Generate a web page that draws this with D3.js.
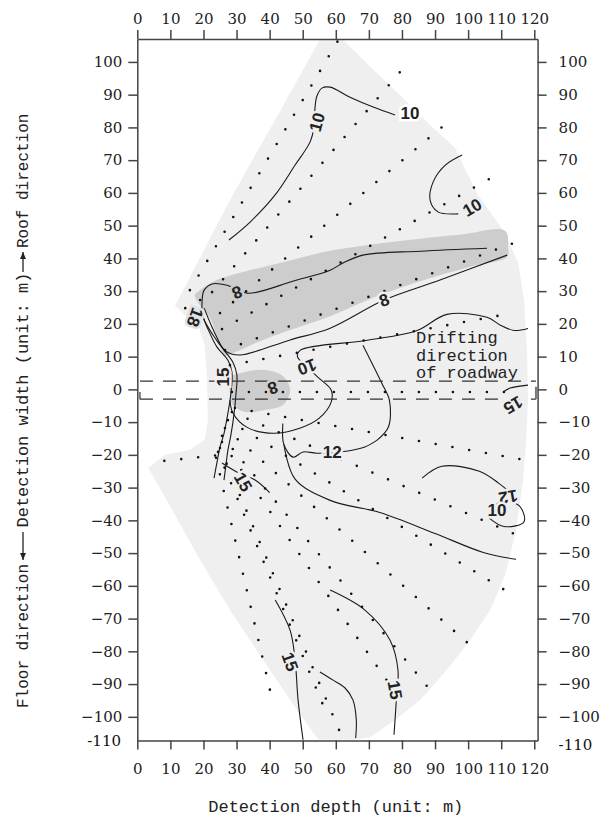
<!DOCTYPE html>
<html>
<head>
<meta charset="utf-8">
<script src="https://cdn.jsdelivr.net/npm/d3@7/dist/d3.min.js"></script>
<style>
  body { margin: 0; background: #fff; }
  text { fill: #222; }
</style>
</head>
<body>
<script>
// tick values / labels
const xTicks = [0, 10, 20, 30, 40, 50, 60, 70, 80, 90, 100, 110, 120];
const yTicks = [-100, -90, -80, -70, -60, -50, -40, -30, -20, -10, 0, 10, 20, 30, 40, 50, 60, 70, 80, 90, 100];
const yBottomLabel = "-110";
const xDomain = [0, 121];
const yDomain = [-107.2, 107];

// measured area (light grey fan), depth / width in m
const fanOutline = [
  [12.3, 27.3], [28.0, 57.8], [41.6, 82.2], [55.3, 107], [61.9, 107], [70.9, 98.1],
  [79.4, 89.9], [88.5, 80.7], [96.1, 73.7], [100, 65.4], [103, 59.3], [110.6, 48.6],
  [115.1, 38.8], [116.9, 27.3], [117.8, 12], [118.1, -3.3], [117.5, -15.5], [116.6, -27.7],
  [114.5, -43], [111.2, -56.7], [106.7, -67.4], [100.6, -76.6], [93, -86.4], [85.5, -94.9],
  [77.9, -101], [70.3, -106.2], [65.8, -107], [54.7, -107], [46.2, -94.9], [37.1, -81.2],
  [28, -67.4], [19, -52.1], [11.4, -38.4], [5.4, -27.7], [3.3, -24], [8.4, -20],
  [15.9, -18.5], [20.4, -15.4], [21.3, -9.3], [21.1, 2.8], [20.4, 13.5], [18.4, 19.6],
  [14.4, 22.7], [11.4, 25.7]
];

// low value zones (darker grey)
const lowBand = [
  [18.9, 30.3], [23.5, 33.2], [31.1, 35.6], [43.2, 38.6], [58.3, 42.3], [79.4, 45.3],
  [97.5, 47.2], [111.2, 48.4], [112.1, 43.4], [111.8, 40.4], [101.2, 37.6], [85.5, 33],
  [70.9, 27.8], [58.3, 22.3], [46.2, 18.1], [35.6, 14.1], [29.5, 11.3], [26.5, 10.4],
  [24.4, 15], [22, 21.7], [18.9, 25.7], [17.4, 28.8]
];
const lowCore = [
  [28.0, 3.5], [32.6, 5.3], [38.6, 5.9], [44, 4.1], [46.2, -0.2], [44, -4.8],
  [38.6, -6.3], [32.6, -6.9], [28.9, -4.8], [28.0, -0.8]
];

// isolines
const contourLines = [
  // 10, upper
  [[27.7, 45.6], [34.1, 51.1], [41.6, 59.3], [47.7, 68.5], [52.2, 75.5], [53.4, 80], [53.7, 85.9],
   [54.3, 89.6], [55.8, 92], [58.3, 92.3], [64.3, 89.2], [71.3, 86.2], [77.9, 83.8]],
  // 10, right closed bay
  [[98.2, 71.6], [93.1, 68.5], [89.4, 63.3], [88.5, 57.8], [90.9, 54.2], [97, 53.6]],
  // 8, band
  [[105.7, 43.1], [85.5, 42.2], [68.2, 41], [62.2, 38.6], [58.3, 36.4], [46.2, 32.8], [38.6, 30.3],
   [33.2, 29.4], [27.1, 31.8], [22.6, 32.2], [20.2, 30.3], [19.6, 27.3], [19.9, 22.1], [23.5, 15.7],
   [27.1, 11.4], [31, 10.5], [46.2, 15.1], [58.3, 18.7], [74.6, 27.3], [91.5, 33.4], [111.8, 41]],
  // 18 / 15 along the roadway wall
  [[19, 24.2], [21.1, 19], [24.1, 12.9], [27.4, 8.9], [28.6, 5.3], [28.3, -1.1], [27.4, -7.2],
   [26.2, -13.5], [25, -17.6], [24.1, -22.2], [23.2, -27.1]],
  [[20.2, 24.8], [22.6, 19], [25.6, 12.9], [28.9, 8.3], [30.1, 4.4], [29.8, -1.7], [29.2, -7.8],
   [28.3, -13.9], [27.4, -18.5], [26.8, -23.1], [26.2, -27.7]],
  // 10, middle
  [[118.1, 18.6], [113.9, 18], [109.9, 19.5], [105.7, 22], [93.6, 22.9], [84.6, 18.0], [69.5, 15],
   [49.3, 12], [48.4, 10.1], [51.3, 6.8], [54.7, 3.6], [58.6, -0.2], [58.6, -3.9], [55.0, -8.8],
   [49.3, -11.8], [41.1, -13.4], [33.2, -11.6], [28.9, -7.2], [28, -3.3]],
  [[68.2, 13.5], [73.9, 1.9], [76.2, -3.3], [75.9, -11.5], [72.5, -15.5]],
  // 12, middle
  [[44, -10.4], [44.3, -16.8], [47.1, -20.7], [50.1, -19.1], [54.3, -19.5], [63.7, -18.8],
   [68.8, -17.6], [72.5, -15.5]],
  // 15, right edge
  [[110.6, -0.8], [112.7, 0.4], [118.1, 1.3]],
  // lower right 12
  [[86.1, -27.1], [92.1, -23.5], [103.4, -25], [109.3, -28.7], [115.4, -33.9]],
  [[107.3, -36.6], [109.9, -34.2], [115.4, -35.5], [116.9, -40.4], [110.9, -41.9], [106.4, -39.3]],
  // lower 12 long
  [[44.3, -16.8], [47.7, -27.4], [58.3, -33.9], [73.3, -37.6], [90, -44], [104.6, -49.8], [114.5, -51.9]],
  // lower 15
  [[41.7, -64.3], [46.2, -73.6], [47.7, -82.7], [48.6, -94.9], [50.1, -107]],
  [[55.2, -86.3], [59.2, -88.8], [62.8, -91.2], [65.2, -94.9], [66.2, -101], [66.0, -106.5]],
  [[58.3, -61.3], [68.8, -67.4], [76.4, -76.6], [78.8, -85.7], [78.2, -96.4], [77.6, -105.5]],
  [[25.6, -22.5], [30.2, -25.3], [35.6, -27.7], [40, -31.5]]
];

const contourLabels = [
  { t: "10", p: [54.3, 81.6], r: -75, bg: "#efefef" },
  { t: "10", p: [82.4, 84.4], r: 0, bg: "#fff" },
  { t: "10", p: [101.2, 55.6], r: -30, bg: "#efefef" },
  { t: "8", p: [30.2, 29.6], r: 160, bg: "#cdcdcd" },
  { t: "8", p: [74.6, 27.3], r: -20, bg: "#efefef" },
  { t: "18", p: [17.5, 22.0], r: 110, bg: "#e2e2e2" },
  { t: "15", p: [25.9, 3.8], r: -90, bg: "#efefef" },
  { t: "10", p: [51.3, 6.8], r: 160, bg: "#efefef" },
  { t: "8", p: [41, 0.4], r: 160, bg: "#cdcdcd" },
  { t: "12", p: [58.9, -19.1], r: 0, bg: "#efefef" },
  { t: "15", p: [32, -28.3], r: 60, bg: "#efefef" },
  { t: "12", p: [112.1, -32.9], r: 170, bg: "#efefef" },
  { t: "10", p: [108.7, -36.9], r: 0, bg: "#efefef" },
  { t: "15", p: [113.6, -4.8], r: 150, bg: "#efefef" },
  { t: "15", p: [46.2, -83.2], r: 70, bg: "#efefef" },
  { t: "15", p: [77.9, -91.8], r: 80, bg: "#efefef" }
];

// boreholes (measurement rays): start depth, start width, end depth, end width
const rays = [
  [15.9, 30.3, 62.2, 109.1],
  [22.6, 29.7, 79.4, 96.9],
  [25.0, 23.3, 94.2, 81.9],
  [25.6, 18.4, 106.3, 64.2],
  [26.5, 12.0, 115.4, 45.3],
  [28.0, 7.4, 110.3, 22.7],
  [28.6, -0.8, 113.3, -0.8],
  [29.5, -5.7, 115.7, -21.3],
  [28.6, -6.9, 114.8, -44.5],
  [27.4, -9.4, 111.1, -61.3],
  [26.5, -11.8, 100.6, -78.1],
  [25.6, -14.2, 88.5, -91.8],
  [25.6, -16.1, 79.1, -94.3],
  [25.0, -17.9, 61.9, -106.2],
  [24.4, -19.1, 56.4, -97.0],
  [23.8, -20.9, 40.1, -91.8],
  [23.5, -20.2, 3.8, -22.3],
  [19.0, 27.3, 12.3, 23.6]
];

// roadway (dashed strip)
const roadway = { depth: [0.8, 120.5], width: [2.5, -3.0] };

const svgWidth = 600, svgHeight = 819;
const svg = d3.select("body").append("svg")
  .attr("width", svgWidth).attr("height", svgHeight)
  .style("font-family", "'DejaVu Serif', serif");

const x = d3.scaleLinear().domain(xDomain).range([137.3, 537.6]);
const y = d3.scaleLinear().domain(yDomain).range([740.4, 39]);

const line = d3.line().x(d => x(d[0])).y(d => y(d[1]));
const smooth = d3.line().x(d => x(d[0])).y(d => y(d[1])).curve(d3.curveCatmullRom.alpha(0.5));
const closed = d3.line().x(d => x(d[0])).y(d => y(d[1])).curve(d3.curveCatmullRomClosed.alpha(0.5));

// fill areas
svg.append("path").attr("d", line.curve(d3.curveLinearClosed)(fanOutline)).attr("fill", "#efefef");
svg.append("path").attr("d", closed(lowBand)).attr("fill", "#cdcdcd");
svg.append("path").attr("d", closed(lowCore)).attr("fill", "#cdcdcd");

// isolines
svg.append("g").selectAll("path").data(contourLines).join("path")
  .attr("d", smooth).attr("fill", "none").attr("stroke", "#1a1a1a").attr("stroke-width", 1.1);

// boreholes as dotted lines
svg.append("g").selectAll("line").data(rays).join("line")
  .attr("x1", d => x(d[0])).attr("y1", d => y(d[1]))
  .attr("x2", d => x(d[2])).attr("y2", d => y(d[3]))
  .attr("stroke", "#111").attr("stroke-width", 2.6).attr("stroke-linecap", "round")
  .attr("stroke-dasharray", "0,17");

// roadway dashed strip
const rw = svg.append("g").attr("stroke", "#333").attr("stroke-width", 1.2);
roadway.width.forEach(w => {
  rw.append("line").attr("x1", x(roadway.depth[0])).attr("x2", x(roadway.depth[1]))
    .attr("y1", y(w)).attr("y2", y(w)).attr("stroke-dasharray", "13,10");
});
rw.append("line").attr("x1", x(roadway.depth[0])).attr("x2", x(roadway.depth[0]))
  .attr("y1", y(-0.8)).attr("y2", y(roadway.width[1]));
rw.append("line").attr("x1", x(roadway.depth[1])).attr("x2", x(roadway.depth[1]))
  .attr("y1", y(0.8)).attr("y2", y(roadway.width[1])).attr("stroke-width", 2).attr("stroke", "#777");

// isoline labels
svg.append("g").selectAll("text").data(contourLabels).join("text")
  .attr("transform", d => `translate(${x(d.p[0])},${y(d.p[1])}) rotate(${d.r})`)
  .attr("text-anchor", "middle").attr("dy", "0.35em")
  .style("font-family", "'Liberation Sans', Arial, sans-serif")
  .style("font-weight", "bold").style("font-size", "17px")
  .style("paint-order", "stroke").attr("stroke", d => d.bg).attr("stroke-width", 5)
  .text(d => d.t);

// annotation
const note = svg.append("text").style("font-family", "'Liberation Mono', monospace").style("font-size", "17px");
["Drifting", "direction", "of roadway"].forEach((s, i) => {
  note.append("tspan").attr("x", 416).attr("y", 343 + i * 17.5).text(s);
});

// axes
const axisStyle = g => {
  g.selectAll("path, line").attr("stroke", "#444").attr("stroke-width", 1.5);
  g.selectAll("text").style("font-size", "15px").style("font-family", "'DejaVu Serif', serif").attr("fill", "#111");
};
svg.append("g").attr("transform", `translate(0,${y(yDomain[1])})`)
  .call(d3.axisTop(x).tickValues(xTicks).tickSize(9).tickSizeOuter(0).tickPadding(6)).call(axisStyle);
svg.append("g").attr("transform", `translate(0,${y(yDomain[0])})`)
  .call(d3.axisBottom(x).tickValues(xTicks).tickSize(9).tickSizeOuter(0).tickPadding(14)).call(axisStyle);
svg.append("g").attr("transform", `translate(${x(xDomain[0])},0)`)
  .call(d3.axisLeft(y).tickValues(yTicks).tickSize(9).tickSizeOuter(0).tickPadding(6)).call(axisStyle);
svg.append("g").attr("transform", `translate(${x(xDomain[1])},0)`)
  .call(d3.axisRight(y).tickValues(yTicks).tickSize(9).tickSizeOuter(0).tickPadding(12)).call(axisStyle);

// bottom edge labels
svg.append("text").attr("x", 121).attr("y", y(yDomain[0])).attr("dy", "0.35em").attr("text-anchor", "end")
  .style("font-size", "15px").style("fill", "#111").text(yBottomLabel);
svg.append("text").attr("x", x(xDomain[1]) + 21).attr("y", y(yDomain[0]) + 4).attr("dy", "0.35em")
  .style("font-size", "15px").style("fill", "#111").text(yBottomLabel);

// axis titles
const mono = "'Liberation Mono', monospace";
svg.append("text").attr("x", (x(0) + x(120)) / 2).attr("y", 812).attr("text-anchor", "middle")
  .style("font-family", mono).style("font-size", "17px").text("Detection depth (unit: m)");
const yt = svg.append("g").attr("transform", "translate(28,0)");
yt.append("text").attr("transform", "translate(0,400) rotate(-90)").attr("text-anchor", "middle")
  .style("font-family", mono).style("font-size", "17px").text("Detection width (unit: m)");
yt.append("text").attr("transform", "translate(0,248) rotate(-90)").attr("text-anchor", "start")
  .style("font-family", mono).style("font-size", "16px").text("Roof direction");
yt.append("text").attr("transform", "translate(0,708) rotate(-90)").attr("text-anchor", "start")
  .style("font-family", mono).style("font-size", "16px").text("Floor direction");
// arrows along the title
const arrow = (y1, y2) => {
  yt.append("line").attr("x1", -5).attr("x2", -5).attr("y1", y1).attr("y2", y2).attr("stroke", "#222").attr("stroke-width", 1.3);
  const s = y2 < y1 ? 1 : -1;
  yt.append("path").attr("d", `M-8,${y2 + s * 7}L-5,${y2}L-2,${y2 + s * 7}Z`).attr("fill", "#222");
};
arrow(272, 252);
arrow(532, 560);
</script>
</body>
</html>
